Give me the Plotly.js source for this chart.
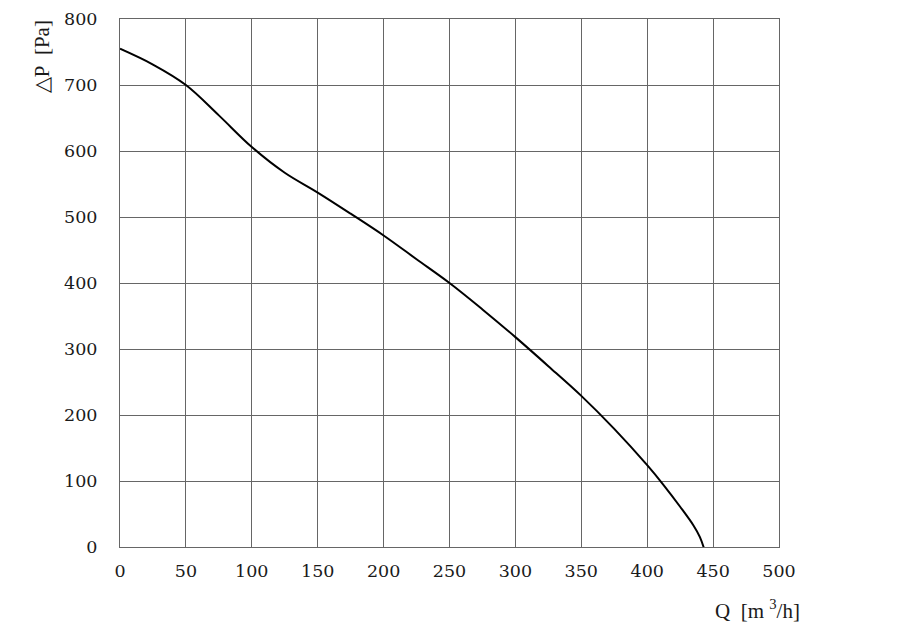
<!DOCTYPE html>
<html>
<head>
<meta charset="utf-8">
<script src="https://cdn.plot.ly/plotly-3.0.1.min.js"></script>
<style>html,body{margin:0;padding:0;background:#fff;}#chart{width:915px;height:639px;}</style>
</head>
<body>
<div id="chart"></div>
<script>
var flowQ = [0, 25, 50, 75, 100, 125, 150, 175, 200, 225, 250, 275, 300, 325, 350, 375, 400, 412, 425, 435, 440, 443.4];
var pressureP = [755, 731, 700, 654, 606, 567, 537, 505, 472, 436, 400, 360, 318, 274, 229, 179, 124, 95, 61, 33, 15, -4];
var xTicks = [0, 50, 100, 150, 200, 250, 300, 350, 400, 450, 500];
var yTicks = [0, 100, 200, 300, 400, 500, 600, 700, 800];
var xTitle = 'Q\u2002[m\u00A0<sup>3</sup>/h]';
var yTitle = '\u25B3P\u2002[Pa]';

function mkFont(size, fam) { return {family: fam || 'Liberation Serif', size: size || 21, color: '#1a1a1a'}; }
var trace = {
  x: flowQ, y: pressureP, type: 'scatter', mode: 'lines',
  line: {color: '#000', width: 2, shape: 'spline', smoothing: 1},
  hoverinfo: 'none'
};
function mkAxis(extra) {
  var a = {
    showgrid: true, gridcolor: '#666666', gridwidth: 1,
    showline: true, linecolor: '#666666', linewidth: 1, mirror: true,
    zeroline: false, ticks: '', tickfont: mkFont(17.5, 'DejaVu Serif'), fixedrange: true
  };
  for (var k in extra) a[k] = extra[k];
  return a;
}
var layout = {
  width: 915, height: 639,
  margin: {l: 120, r: 136, t: 19, b: 92},
  paper_bgcolor: '#fff', plot_bgcolor: '#fff',
  showlegend: false,
  font: mkFont(),
  xaxis: mkAxis({range: [0, 500], tickvals: xTicks, ticktext: xTicks.map(String), ticklabelstandoff: 8}),
  yaxis: mkAxis({range: [0, 800], tickvals: yTicks, ticktext: yTicks.map(String), ticklabelstandoff: 18}),
  annotations: [
    {text: yTitle, xref: 'paper', yref: 'paper', x: -0.118, y: 0.928, xanchor: 'center', yanchor: 'middle', textangle: -90, showarrow: false, font: mkFont(21)},
    {text: xTitle, xref: 'paper', yref: 'paper', x: 0.967, y: -0.118, xanchor: 'center', yanchor: 'middle', showarrow: false, font: mkFont(21)}
  ]
};
Plotly.newPlot('chart', [trace], layout, {staticPlot: true, displayModeBar: false});
</script>
</body>
</html>
